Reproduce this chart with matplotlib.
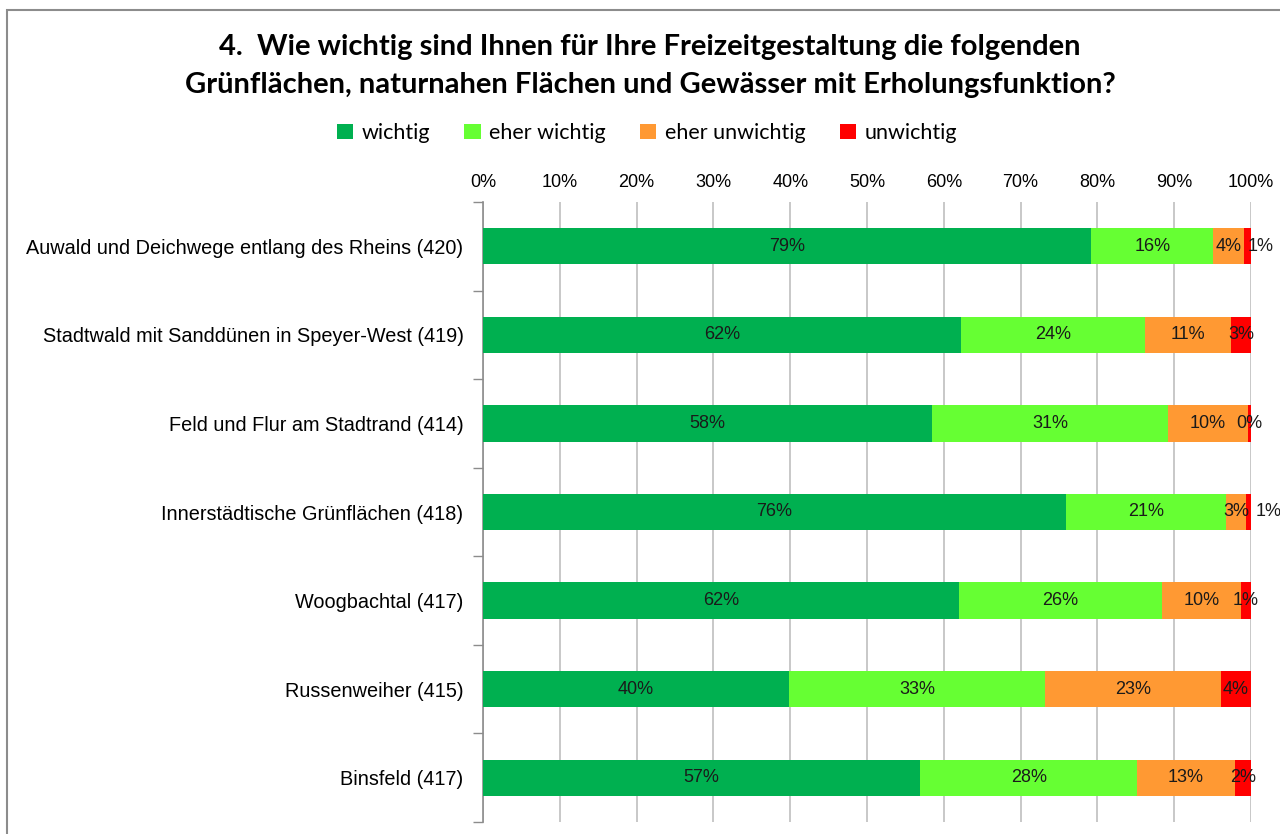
import numpy as np
import matplotlib.pyplot as plt
from matplotlib.patches import Rectangle

categories = [
    "Auwald und Deichwege entlang des Rheins (420)",
    "Stadtwald mit Sanddünen in Speyer-West (419)",
    "Feld und Flur am Stadtrand (414)",
    "Innerstädtische Grünflächen (418)",
    "Woogbachtal (417)",
    "Russenweiher (415)",
    "Binsfeld (417)",
]
series_names = ["wichtig", "eher wichtig", "eher unwichtig", "unwichtig"]
wichtig = [79.2, 62.3, 58.5, 75.9, 62.0, 39.8, 56.9]
eher_wichtig = [15.9, 23.9, 30.7, 20.8, 26.4, 33.4, 28.3]
eher_unwichtig = [4.0, 11.2, 10.4, 2.7, 10.3, 22.9, 12.7]
unwichtig = [0.9, 2.6, 0.4, 0.6, 1.3, 3.9, 2.1]
xticks = [0, 10, 20, 30, 40, 50, 60, 70, 80, 90, 100]

colors = ["#00B050", "#66FF33", "#FF9933", "#FF0000"]
title = ("4.  Wie wichtig sind Ihnen für Ihre Freizeitgestaltung die folgenden\n"
         "Grünflächen, naturnahen Flächen und Gewässer mit Erholungsfunktion?")

fig = plt.figure(figsize=(12.8, 8.34), dpi=100)
ax = fig.add_axes([483 / 1280, 1 - 822 / 834, 768 / 1280, 620 / 834])

y = np.arange(len(categories))
left = np.zeros(len(categories))
prev_centers = np.zeros(len(categories))
for name, vals, col in zip(series_names, [wichtig, eher_wichtig, eher_unwichtig, unwichtig], colors):
    vals = np.array(vals)
    ax.barh(y, vals, left=left, height=0.41, color=col, label=name, zorder=3)
    centers = left + vals / 2
    if name == "unwichtig":
        # keep the tiny labels clear of the orange ones
        centers = np.maximum(centers, prev_centers + 4.2)
    for yi, c, v in zip(y, centers, vals):
        ax.text(c, yi, f"{v:.0f}%", ha="center", va="center",
                fontsize=13, family="Liberation Sans", color="#1a1a1a", zorder=4)
    prev_centers = left + vals / 2
    left += vals

ax.set_xlim(0, 100)
ax.set_ylim(len(categories) - 0.5, -0.5)
ax.xaxis.tick_top()
ax.set_xticks(xticks)
ax.set_xticklabels([f"{t}%" for t in xticks], family="Liberation Sans", fontsize=13)
ax.tick_params(axis="x", length=0, pad=8)
ax.grid(axis="x", color="#BFBFBF", linewidth=1.2, zorder=0)

ax.set_yticks(y)
ax.set_yticklabels(categories, family="Liberation Sans", fontsize=14.3)
ax.set_yticks(np.arange(len(categories) + 1) - 0.5, minor=True)
ax.tick_params(axis="y", which="major", length=0, pad=14)
ax.tick_params(axis="y", which="minor", length=7, color="#8C8C8C", width=1)

for s in ["top", "right", "bottom"]:
    ax.spines[s].set_visible(False)
ax.spines["left"].set_color("#8C8C8C")
ax.spines["left"].set_linewidth(1.2)

fig.text(650 / 1280, 1 - 66 / 834, title, ha="center", va="center",
         fontsize=21, fontweight="bold", family="Lato", linespacing=1.55)

fig.legend(loc="center", bbox_to_anchor=(647 / 1280, 1 - 133 / 834), ncol=4,
           frameon=False, prop={"family": "Lato", "size": 15.5},
           handlelength=0.75, handleheight=0.75, handletextpad=0.4, columnspacing=1.6)

fig.patches.append(Rectangle((7 / 1280, -0.05), 1.1, 1 - 10 / 834 + 0.05,
                             transform=fig.transFigure, fill=False,
                             edgecolor="#8C8C8C", linewidth=1.5))

fig.savefig("out.png", dpi=100)
